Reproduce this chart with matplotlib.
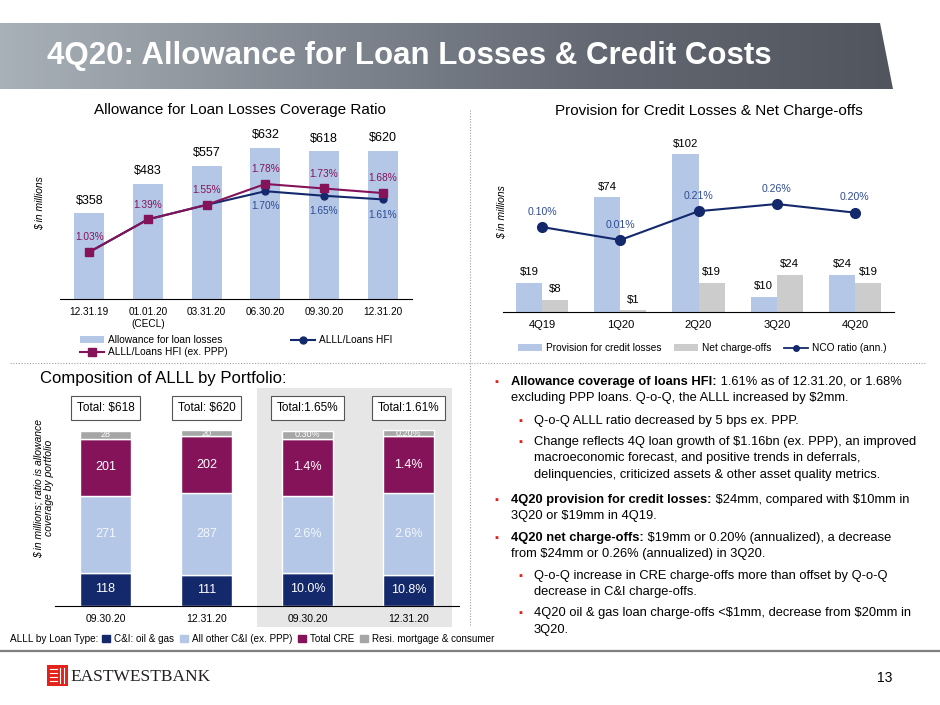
import matplotlib
matplotlib.use('Agg')
import matplotlib.pyplot as plt
import numpy as np
from matplotlib.patches import Rectangle, Polygon, Patch
from matplotlib.lines import Line2D
from matplotlib.colors import LinearSegmentedColormap

plt.rcParams['font.family'] = ['Liberation Sans', 'DejaVu Sans']
plt.rcParams['text.parse_math'] = False

W, H = 940, 705

# --- data -------------------------------------------------------------
allow_dates = ['12.31.19', '01.01.20\n(CECL)', '03.31.20', '06.30.20', '09.30.20', '12.31.20']
allowance = [358, 483, 557, 632, 618, 620]
alll_ratio = [1.03, 1.39, 1.55, 1.70, 1.65, 1.61]
alll_ratio_ex_ppp = [1.03, 1.39, 1.55, 1.78, 1.73, 1.68]

quarters = ['4Q19', '1Q20', '2Q20', '3Q20', '4Q20']
provision = [19, 74, 102, 10, 24]
net_chargeoffs = [8, 1, 19, 24, 19]
nco_ratio = [0.10, 0.01, 0.21, 0.26, 0.20]

comp_dates = ['09.30.20', '12.31.20', '09.30.20', '12.31.20']
comp_types = ['C&I: oil & gas', 'All other C&I (ex. PPP)', 'Total CRE', 'Resi. mortgage & consumer']
oil_gas = [118, 111, 118, 111]
other_ci = [271, 287, 271, 287]
total_cre = [201, 202, 201, 202]
resi = [28, 20, 28, 20]
oil_gas_lbl = ['118', '111', '10.0%', '10.8%']
other_ci_lbl = ['271', '287', '2.6%', '2.6%']
total_cre_lbl = ['201', '202', '1.4%', '1.4%']
resi_lbl = ['28', '20', '0.30%', '0.20%']
comp_totals = ['Total: $618', 'Total: $620', 'Total:1.65%', 'Total:1.61%']

# colours
LIGHT_BLUE = '#b4c7e7'
NAVY = '#13296b'
NAVY_TXT = '#2f4b94'
MAROON = '#85135a'
NCO_GREY = '#cccccc'
RESI_GREY = '#a6a6a6'
RED = '#e2231a'


def px_axes(fig, x0, y0, x1, y1, **kw):
    """axes placed by pixel box (top-left origin)"""
    return fig.add_axes([x0 / W, 1 - y1 / H, (x1 - x0) / W, (y1 - y0) / H], **kw)


def clean(ax):
    for s in ['top', 'right', 'left']:
        ax.spines[s].set_visible(False)
    ax.set_yticks([])
    ax.patch.set_visible(False)


fig = plt.figure(figsize=(9.4, 7.05), dpi=100)

# background canvas in pixel coords
bg = fig.add_axes([0, 0, 1, 1], zorder=-1)
bg.axis('off')

# header band
cmap = LinearSegmentedColormap.from_list('band', ['#a9b1b8', '#838a93', '#636872', '#50555e'])
band = Polygon([(0, 23), (880, 23), (893, 89), (0, 89)], closed=True, fc='none', ec='none')
bg.add_patch(band)
im = bg.imshow(np.linspace(0, 1, 256).reshape(1, -1), cmap=cmap,
               extent=(0, 893, 89, 23), aspect='auto')
im.set_clip_path(band)
bg.set_xlim(0, W)
bg.set_ylim(H, 0)
bg.text(47, 56, '4Q20: Allowance for Loan Losses & Credit Costs', color='white',
        fontsize=22.5, fontweight='bold', va='center')

# dotted separators, footer rule, shaded region
bg.plot([10, 925], [363, 363], ls=(0, (1, 1.5)), color='#a0a0a0', lw=0.8)
bg.plot([470, 470], [110, 625], ls=(0, (1, 1.5)), color='#a0a0a0', lw=0.8)
bg.plot([0, W], [651, 651], color='#7f7f7f', lw=1.6)
bg.add_patch(Rectangle((257, 388), 195, 239, fc='#e6e6e6', ec='none'))

# logo + page number
bg.add_patch(Rectangle((47, 665), 21, 21, fc=RED, ec='none'))
for yy in [669, 673, 677, 681]:
    bg.plot([50, 57], [yy, yy], color='white', lw=0.8)
for xx in [60, 64]:
    bg.plot([xx, xx], [668, 683], color='white', lw=0.8)
bg.text(70, 677, 'EASTWESTBANK', family=['Liberation Serif', 'DejaVu Serif'],
        fontsize=12.5, va='center', color='#231f20')
bg.text(885, 678, '13', fontsize=10, ha='center', va='center')

# --- chart 1: allowance coverage -------------------------------------
ax1 = px_axes(fig, 60, 120, 412, 299)
x1 = np.arange(len(allowance))
ax1.bar(x1, allowance, width=0.51, color=LIGHT_BLUE, label='Allowance for loan losses')
ax1.set_xlim(-0.5, 5.5)
ax1.set_ylim(0, 749)
clean(ax1)
ax1.set_xticks(x1)
ax1.set_xticklabels(allow_dates, fontsize=7.2, va='top')
ax1.tick_params(axis='x', length=0, pad=6)
for xi, v in zip(x1, allowance):
    ax1.annotate(f'${v}', (xi, v), xytext=(0, 9), textcoords='offset points',
                 ha='center', va='center', fontsize=9)

ax1b = ax1.twinx()
ax1b.set_ylim(0.512, 2.485)
for s in ax1b.spines.values():
    s.set_visible(False)
ax1b.set_yticks([])
l_hfi, = ax1b.plot(x1, alll_ratio, color=NAVY, lw=1.5, marker='o', ms=5, label='ALLL/Loans HFI')
l_ppp, = ax1b.plot(x1, alll_ratio_ex_ppp, color=MAROON, lw=1.5, marker='s', ms=5.5,
                   label='ALLL/Loans HFI (ex. PPP)')
for xi, a, p in zip(x1, alll_ratio, alll_ratio_ex_ppp):
    ax1b.annotate(f'{p:.2f}%', (xi, p), xytext=(0, 10.5), textcoords='offset points',
                  ha='center', va='center', fontsize=7.3, color=MAROON)
    if a != p:
        ax1b.annotate(f'{a:.2f}%', (xi, a), xytext=(0, -11), textcoords='offset points',
                      ha='center', va='center', fontsize=7.3, color=NAVY_TXT)

bars1 = ax1.containers[0]
ax1.legend([bars1, l_ppp, l_hfi],
           ['Allowance for loan losses', 'ALLL/Loans HFI (ex. PPP)', 'ALLL/Loans HFI'],
           ncol=2, loc='upper left', bbox_to_anchor=(80 / W, 1 - 335 / H),
           bbox_transform=fig.transFigure, frameon=False, fontsize=7.3,
           handlelength=2.4, handleheight=0.6, handletextpad=0.4,
           columnspacing=6.2, labelspacing=0.2, borderaxespad=0, borderpad=0)
fig.text(240 / W, 1 - 110 / H, 'Allowance for Loan Losses Coverage Ratio',
         ha='center', va='center', fontsize=11)
fig.text(40 / W, 1 - 203 / H, '$ in millions', rotation=90, style='italic',
         ha='center', va='center', fontsize=7.5)

# --- chart 2: provision & NCOs ---------------------------------------
ax2 = px_axes(fig, 503, 130, 894, 312)
x2 = np.arange(len(quarters))
bw = 0.333
b_prov = ax2.bar(x2 - bw / 2, provision, bw, color=LIGHT_BLUE)
b_nco = ax2.bar(x2 + bw / 2, net_chargeoffs, bw, color=NCO_GREY)
ax2.set_xlim(-0.5, 4.5)
ax2.set_ylim(0, 117.5)
clean(ax2)
ax2.set_xticks(x2)
ax2.set_xticklabels(quarters, fontsize=8)
ax2.tick_params(axis='x', length=0, pad=6)
for xi, v in zip(x2 - bw / 2, provision):
    ax2.annotate(f'${v}', (xi, v), xytext=(0, 7.5), textcoords='offset points',
                 ha='center', va='center', fontsize=8.2)
for xi, v in zip(x2 + bw / 2, net_chargeoffs):
    ax2.annotate(f'${v}', (xi, v), xytext=(0, 7.5), textcoords='offset points',
                 ha='center', va='center', fontsize=8.2)

ax2b = ax2.twinx()
ax2b.set_ylim(-0.49, 0.774)
for s in ax2b.spines.values():
    s.set_visible(False)
ax2b.set_yticks([])
l_nco, = ax2b.plot(x2, nco_ratio, color=NAVY, lw=1.5, marker='o', ms=7)
for xi, v in zip(x2, nco_ratio):
    ax2b.annotate(f'{v:.2f}%', (xi, v), xytext=(0, 11), textcoords='offset points',
                  ha='center', va='center', fontsize=7.6, color=NAVY_TXT)

ax2.legend([b_prov, b_nco, Line2D([], [], color=NAVY, lw=1.3, marker='o', ms=4)],
           ['Provision for credit losses', 'Net charge-offs', 'NCO ratio (ann.)'],
           ncol=3, loc='center', bbox_to_anchor=(702 / W, 1 - 348 / H),
           bbox_transform=fig.transFigure, frameon=False, fontsize=7.3,
           handlelength=2.4, handleheight=0.6, handletextpad=0.4,
           columnspacing=1.2, borderaxespad=0, borderpad=0)
fig.text(709 / W, 1 - 111 / H, 'Provision for Credit Losses & Net Charge-offs',
         ha='center', va='center', fontsize=11)
fig.text(502 / W, 1 - 212 / H, '$ in millions', rotation=90, style='italic',
         ha='center', va='center', fontsize=7.5)

# --- chart 3: composition of ALLL ------------------------------------
ax3 = px_axes(fig, 55, 388, 459, 606)
x3 = np.arange(len(comp_dates))
bottom = np.zeros(len(x3))
segments = [
    (oil_gas, oil_gas_lbl, NAVY, 'white', 9),
    (other_ci, other_ci_lbl, LIGHT_BLUE, '#f4f7fc', 9),
    (total_cre, total_cre_lbl, MAROON, 'white', 9),
    (resi, resi_lbl, RESI_GREY, 'white', 6.5),
]
comp_handles = []
for vals, lbls, col, tcol, fs in segments:
    bars = ax3.bar(x3, vals, 0.5, bottom=bottom, color=col, edgecolor='white', linewidth=1)
    comp_handles.append(Patch(color=col))
    for xi, b, v, t in zip(x3, bottom, vals, lbls):
        ax3.text(xi, b + v / 2, t, ha='center', va='center', fontsize=fs, color=tcol,
                 clip_on=False)
    bottom = bottom + np.array(vals)
for xi, t in zip(x3, comp_totals):
    ax3.text(xi, 700, t, ha='center', va='center', fontsize=8.5,
             bbox=dict(boxstyle='square,pad=0.5', fc='white', ec='#555555', lw=0.8))
ax3.set_xlim(-0.5, 3.5)
ax3.set_ylim(0, 770)
clean(ax3)
ax3.set_xticks(x3)
ax3.set_xticklabels(comp_dates, fontsize=7.5)
ax3.tick_params(axis='x', length=0, pad=6)

fig.text(40 / W, 1 - 378 / H, 'Composition of ALLL by Portfolio:', ha='left', va='center',
         fontsize=12)
fig.text(44 / W, 1 - 488 / H, '$ in millions; ratio is allowance\ncoverage by portfolio',
         rotation=90, style='italic', ha='center', va='center', fontsize=7.5,
         multialignment='center', linespacing=1.0)
fig.text(10 / W, 1 - 639 / H, 'ALLL by Loan Type:', ha='left', va='center', fontsize=7.2)
fig.legend(comp_handles, comp_types, ncol=4, loc='center left',
           bbox_to_anchor=(102 / W, 1 - 639 / H), frameon=False, fontsize=7.1,
           handlelength=0.8, handleheight=0.8, handletextpad=0.4,
           columnspacing=0.6, borderaxespad=0, borderpad=0)

# --- commentary ------------------------------------------------------
FS = 9.3


def bullet(x, y):
    bg.text(x, y, '▪', color=RED, fontsize=8, ha='center', va='center')


def line(x, y, text, bold=None):
    if bold:
        t = bg.text(x, y, bold, fontweight='bold', fontsize=FS, va='center', ha='left')
        bg.annotate(text, xy=(1, 0.5), xycoords=t, va='center', ha='left', fontsize=FS)
    else:
        bg.text(x, y, text, fontsize=FS, va='center', ha='left')


MX, SX = 511, 534
bullet(496, 382)
line(MX, 382, ' 1.61% as of 12.31.20, or 1.68%', bold='Allowance coverage of loans HFI:')
line(MX, 398, 'excluding PPP loans. Q-o-Q, the ALLL increased by $2mm.')
bullet(520, 421)
line(SX, 421, 'Q-o-Q ALLL ratio decreased by 5 bps ex. PPP.')
bullet(520, 442)
line(SX, 442, 'Change reflects 4Q loan growth of $1.16bn (ex. PPP), an improved')
line(SX, 458, 'macroeconomic forecast, and positive trends in deferrals,')
line(SX, 475, 'delinquencies, criticized assets & other asset quality metrics.')
bullet(496, 500)
line(MX, 500, ' $24mm, compared with $10mm in', bold='4Q20 provision for credit losses:')
line(MX, 516, '3Q20 or $19mm in 4Q19.')
bullet(496, 538)
line(MX, 538, ' $19mm or 0.20% (annualized), a decrease', bold='4Q20 net charge-offs:')
line(MX, 554, 'from $24mm or 0.26% (annualized) in 3Q20.')
bullet(520, 576)
line(SX, 576, 'Q-o-Q increase in CRE charge-offs more than offset by Q-o-Q')
line(SX, 592, 'decrease in C&I charge-offs.')
bullet(520, 613)
line(SX, 613, '4Q20 oil & gas loan charge-offs <$1mm, decrease from $20mm in')
line(SX, 630, '3Q20.')

fig.savefig('out.png', dpi=100)
